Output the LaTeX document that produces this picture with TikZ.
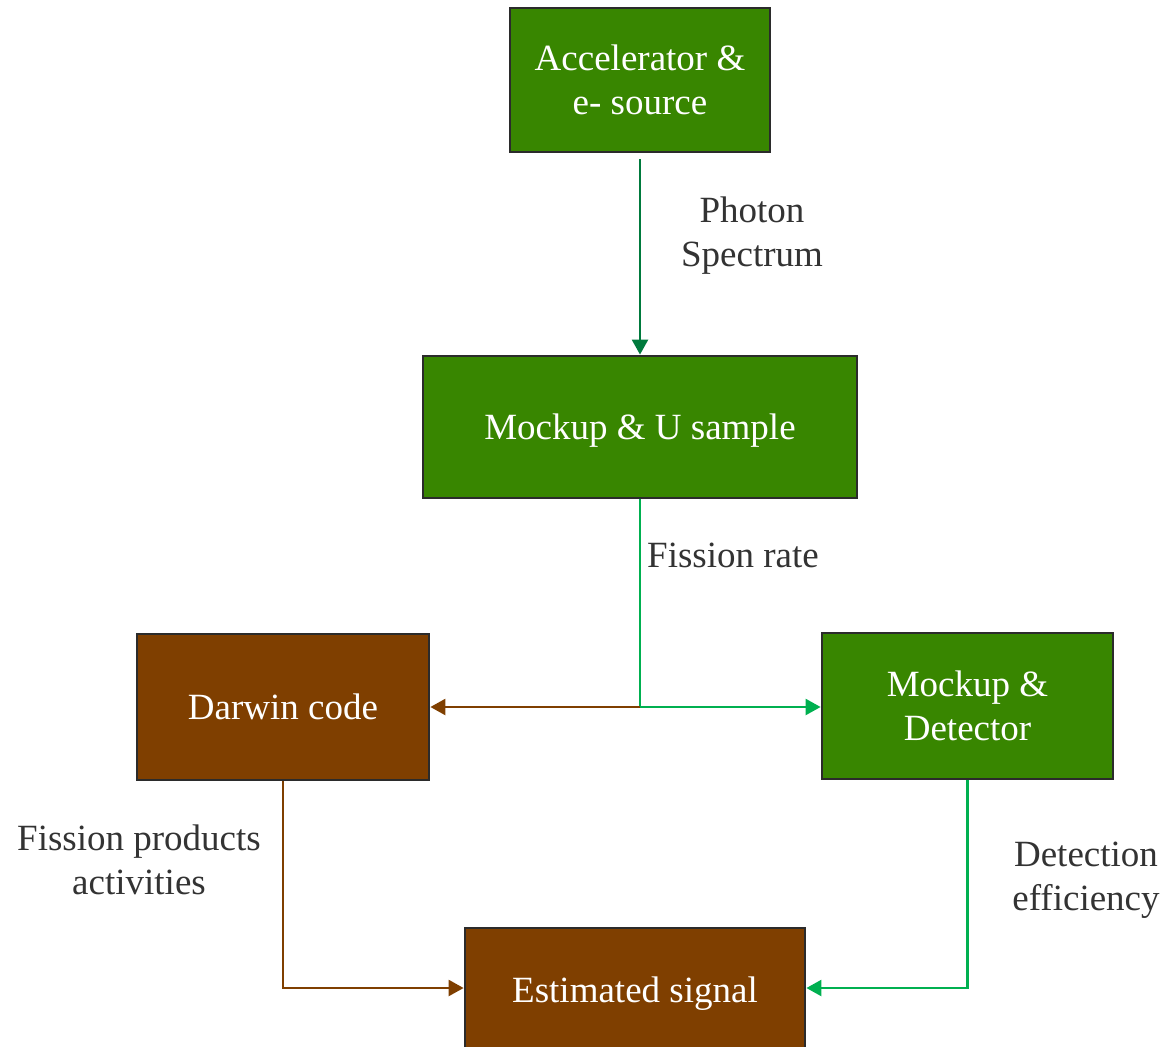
\documentclass[tikz,border=0pt]{standalone}
\usepackage{fontspec}
\setmainfont{Liberation Serif}
\newfontfamily\serf{Liberation Serif}
\usetikzlibrary{arrows.meta}
\definecolor{boxgreen}{HTML}{388600}
\definecolor{boxbrown}{HTML}{7F3F00}
\definecolor{edge}{HTML}{2B2B2B}
\definecolor{darkgr}{HTML}{007A3D}
\definecolor{brightgr}{HTML}{00B050}
\definecolor{arrbrown}{HTML}{7F3F00}
\definecolor{txt}{HTML}{333333}
\begin{document}
\begin{tikzpicture}[x=1pt,y=-1pt,
  boxbase/.style={draw=edge,line width=2.8pt,text=white,align=center,inner sep=0pt,
    text depth=0pt,font=\serf\fontsize{37}{44}\selectfont},
  gbox/.style={boxbase,fill=boxgreen},
  bbox/.style={boxbase,fill=boxbrown},
  lbl/.style={text=txt,align=center,font=\serf\fontsize{37}{44}\selectfont,inner sep=0pt},
  arr/.style={line width=2.4pt,-{Triangle[length=15pt,width=16pt]}}
]
\useasboundingbox (0,0) rectangle (1169,1046);
\begin{scope}
\clip (0,0) rectangle (1169,1046);
\node[gbox,minimum width=260pt,minimum height=144pt] (acc) at (640,80) {Accelerator \&\\e- source};
\node[gbox,minimum width=434pt,minimum height=142pt] (mock) at (640,427) {Mockup \& U sample};
\node[bbox,minimum width=292pt,minimum height=146pt] (darwin) at (283,707) {Darwin code};
\node[gbox,minimum width=291pt,minimum height=146pt] (det) at (967.5,706) {Mockup \&\\Detector};
\node[bbox,minimum width=340pt,minimum height=124pt] (est) at (635,990) {};
\node[text=white,font=\serf\fontsize{37}{44}\selectfont,inner sep=0pt,text depth=0pt] (esttxt) at (635,990) {Estimated signal};
\end{scope}
\coordinate (split) at (640,707);
\draw[arr,darkgr] ([yshift=-6pt]acc.south) -- (mock.north);
\node[lbl] (l1) at (752,236) {Photon\\Spectrum};
\draw[line width=2.4pt,brightgr] (mock.south) -- (split);
\draw[arr,brightgr] (split) -- (det.west |- split);
\draw[arr,arrbrown] (split) -- (darwin.east |- split);
\node[lbl,anchor=west] (l2) at (647,555) {Fission rate};
\draw[arr,arrbrown] (darwin.south) |- (est.west |- 0,988);
\node[lbl] (l3) at (139,860) {Fission products\\activities};
\draw[arr,brightgr] (det.south) |- (est.east |- 0,988);
\node[lbl] (l4) at (1086,880) {Detection\\efficiency};
\end{tikzpicture}
\end{document}
